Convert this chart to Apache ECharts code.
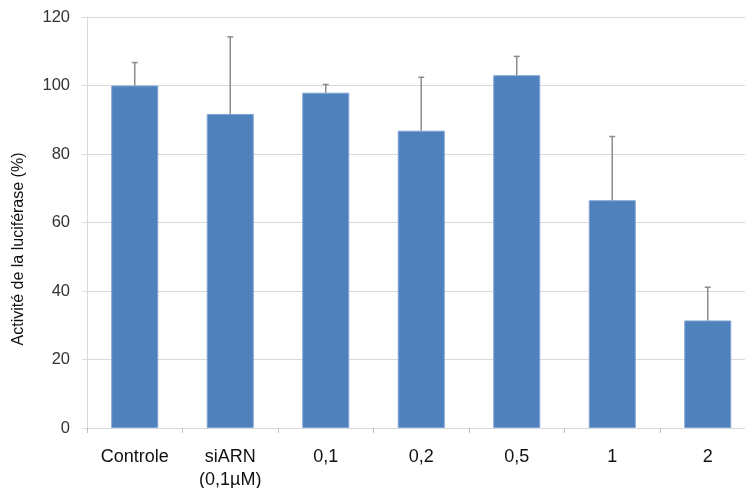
<!DOCTYPE html>
<html>
<head>
<meta charset="utf-8">
<script src="https://cdn.jsdelivr.net/npm/echarts@6/dist/echarts.min.js"></script>
<style>html,body{margin:0;padding:0;background:#fff}#c{width:745px;height:488px}</style>
</head>
<body>
<div id="c"></div>
<script>
var categories = ['Controle', 'siARN\n(0,1µM)', '0,1', '0,2', '0,5', '1', '2'];
var values = [100, 91.7, 97.9, 86.8, 103.0, 66.5, 31.4];
var errors = [6.7, 22.5, 2.4, 15.6, 5.5, 18.6, 9.7];
var yTicks = [0, 20, 40, 60, 80, 100, 120];
var yTitle = 'Activité de la luciférase (%)';

var errData = values.map(function (v, i) { return [i, v, v + errors[i]]; });

var chart = echarts.init(document.getElementById('c'), null, {renderer: 'canvas'});
chart.setOption({
  animation: false,
  backgroundColor: '#fff',
  textStyle: {fontFamily: 'Liberation Sans, Arial, sans-serif'},
  grid: {left: 87, top: 17, width: 668.5, height: 411, outerBoundsMode: 'none', containLabel: false},
  xAxis: {
    type: 'category',
    data: categories,
    axisLine: {lineStyle: {color: '#d9d9d9', width: 1}},
    axisTick: {show: true, length: 5, lineStyle: {color: '#bfbfbf'}},
    axisLabel: {color: '#111', fontSize: 18, margin: 18, lineHeight: 23, interval: 0}
  },
  yAxis: {
    type: 'value',
    min: yTicks[0],
    max: yTicks[yTicks.length - 1],
    interval: 20,
    axisLine: {show: true, lineStyle: {color: '#d9d9d9'}},
    axisTick: {show: true, length: 5, lineStyle: {color: '#d9d9d9'}},
    axisLabel: {color: '#333', fontSize: 16.5, margin: 17},
    splitLine: {lineStyle: {color: '#d9d9d9', width: 1}}
  },
  graphic: [{
    type: 'text',
    x: 19, y: 249,
    rotation: Math.PI / 2,
    style: {text: yTitle, fill: '#111', font: '16px "Liberation Sans", Arial, sans-serif', align: 'center', verticalAlign: 'middle'}
  }],
  series: [{
    type: 'bar',
    data: values,
    barWidth: 47,
    itemStyle: {color: '#4f81bd', borderColor: '#7fa3d3', borderWidth: 1}
  }, {
    type: 'custom',
    data: errData,
    z: 10,
    renderItem: function (params, api) {
      var x = api.value(0);
      var lo = api.coord([x, api.value(1)]);
      var hi = api.coord([x, api.value(2)]);
      var c = {stroke: '#8c8c8c', lineWidth: 1.5};
      return {type: 'group', children: [
        {type: 'line', shape: {x1: lo[0], y1: lo[1], x2: hi[0], y2: hi[1]}, style: c},
        {type: 'line', shape: {x1: hi[0] - 3, y1: hi[1], x2: hi[0] + 3, y2: hi[1]}, style: c}
      ]};
    }
  }]
});
</script>
</body>
</html>
